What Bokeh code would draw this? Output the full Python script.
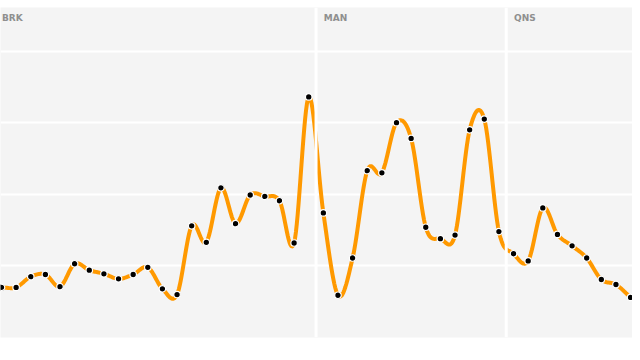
import numpy as np
from bokeh.plotting import figure
from bokeh.models import Span, FixedTicker
from bokeh.core.properties import value
from bokeh.embed import file_html
from bokeh.resources import INLINE

# ---- data ----
values = [0.70, 0.70, 0.85, 0.88, 0.71, 1.03, 0.94, 0.89, 0.82, 0.88,
          0.98, 0.68, 0.60, 1.56, 1.33, 2.09, 1.59, 1.99, 1.97, 1.91,
          1.32, 3.36, 1.74, 0.59, 1.11, 2.33, 2.30, 3.00, 2.78, 1.54,
          1.38, 1.43, 2.90, 3.05, 1.48, 1.17, 1.07, 1.81, 1.44, 1.28,
          1.11, 0.81, 0.74, 0.56]
boroughs = ["BRK", "MAN", "QNS"]
borough_start = [0, 22, 35]
grid_ticks = [1, 2, 3, 4]

x = np.arange(len(values), dtype=float)
y = np.array(values, dtype=float)

# Catmull-Rom spline through the points (data units)
def catmull_rom(xs, ys, n=16):
    px = np.concatenate([[2 * xs[0] - xs[1]], xs, [2 * xs[-1] - xs[-2]]])
    py = np.concatenate([[2 * ys[0] - ys[1]], ys, [2 * ys[-1] - ys[-2]]])
    ox, oy = [], []
    t = np.linspace(0, 1, n, endpoint=False)
    for i in range(1, len(px) - 2):
        for arr, out in ((px, ox), (py, oy)):
            p0, p1, p2, p3 = arr[i - 1], arr[i], arr[i + 1], arr[i + 2]
            out.extend(0.5 * ((2 * p1) + (-p0 + p2) * t
                              + (2 * p0 - 5 * p1 + 4 * p2 - p3) * t ** 2
                              + (-p0 + 3 * p1 - 3 * p2 + p3) * t ** 3))
    ox.append(xs[-1]); oy.append(ys[-1])
    return np.array(ox), np.array(oy)

sx, sy = catmull_rom(x, y)

px_per_idx = 14.63
px_per_unit = 71.6
frame_w, frame_h = 632, 330
x0 = -1.0 / px_per_idx
y_top = frame_h / px_per_unit

p = figure(width=632, height=345, output_backend="svg", toolbar_location=None,
           x_range=(x0, x0 + frame_w / px_per_idx), y_range=(0, y_top),
           min_border_left=0, min_border_right=0, min_border_top=7,
           min_border_bottom=8)
p.background_fill_color = "#f4f4f4"
p.border_fill_color = "white"
p.outline_line_color = None
p.xaxis.visible = False
p.yaxis.visible = False
p.xgrid.grid_line_color = None
p.ygrid.ticker = FixedTicker(ticks=grid_ticks)
p.ygrid.grid_line_color = "white"
p.ygrid.grid_line_width = 2

for s in borough_start[1:]:
    p.add_layout(Span(location=s - 0.5, dimension="height",
                      line_color="white", line_width=3))

p.line(sx, sy, line_color="#ff9900", line_width=4, line_join="round")
p.scatter(x, y, size=6.5, fill_color="black", line_color="white", line_width=1.2)

p.text(x=borough_start, y=[y_top - 5.5 / px_per_unit] * len(boroughs), text=boroughs,
       text_font=value("DejaVu Sans"), text_font_style="bold",
       text_font_size="9px", text_color="#8f8f8f", text_baseline="top",
       text_align="left", x_offset=0.5)

open("out.html", "w").write(file_html(p, INLINE))
